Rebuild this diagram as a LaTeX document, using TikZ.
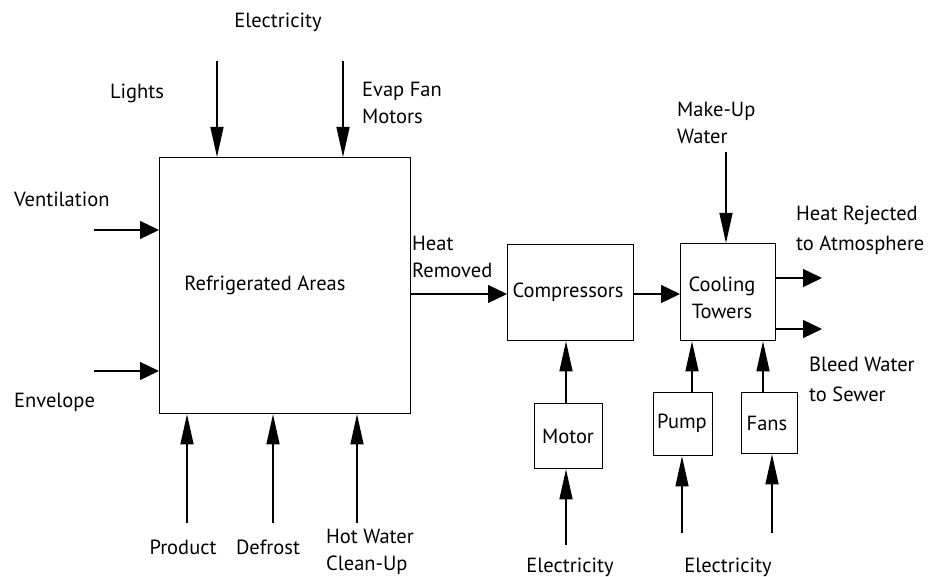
\documentclass[tikz,border=0pt]{standalone}
\usepackage{fontspec}
\setmainfont{PT Sans}
\usetikzlibrary{arrows.meta}
\begin{document}
\begin{tikzpicture}[x=1pt,y=-1pt,
  box/.style={draw,line width=1.3pt,inner sep=0pt,anchor=north west},
  lbl/.style={inner sep=0pt,yshift=-2pt,font=\fontsize{20.5}{27}\selectfont,align=left},
  wlbl/.style={lbl,font=\fontsize{20.5}{30}\selectfont},
  varr/.style={line width=1.3pt,-{Triangle[length=30pt,width=13pt]}},
  harr/.style={line width=1.3pt,-{Triangle[length=19pt,width=18pt]}}]
\useasboundingbox (0,0) rectangle (938,577);
% boxes
\node[box,minimum width=251pt,minimum height=256pt] (ra) at (159,157) {};
\node[lbl] at (265,283) {Refrigerated Areas};
\node[box,minimum width=126pt,minimum height=96pt] (comp) at (507,244) {};
\node[lbl] at (568,290) {Compressors};
\node[box,minimum width=95pt,minimum height=97pt] (ct) at (680,243) {};
\node[lbl,align=center] at (722,296) {Cooling\\Towers};
\node[box,minimum width=68pt,minimum height=65pt] (motor) at (534,403) {};
\node[lbl] at (568,434) {Motor};
\node[box,minimum width=59pt,minimum height=63pt] (pump) at (653,392) {};
\node[lbl] at (682,421) {Pump};
\node[box,minimum width=56pt,minimum height=61pt] (fans) at (741,392) {};
\node[lbl] at (767,421) {Fans};
% labels
\node[lbl] (lel) at (278,20) {Electricity};
\node[lbl] (llights) at (137,91) {Lights};
\node[lbl,anchor=west] (levap) at (362,101) {Evap Fan\\Motors};
\node[lbl,anchor=west] (lvent) at (14,197) {Ventilation};
\node[lbl,anchor=west] (lenv) at (14,400) {Envelope};
\node[lbl] (lprod) at (183,545) {Product};
\node[lbl] (ldef) at (268,545) {Defrost};
\node[lbl,anchor=west] (lhot) at (326,550) {Hot Water\\Clean-Up};
\node[lbl,anchor=west] (lheat) at (412,255) {Heat\\Removed};
\node[lbl,anchor=west] (lmake) at (677,121) {Make-Up\\Water};
\node[wlbl,anchor=west] (lrej) at (796,228) {Heat Rejected\\to Atmosphere};
\node[wlbl,anchor=west] (lbleed) at (809,377) {Bleed Water\\to Sewer};
\node[lbl] (lel2) at (570,565) {Electricity};
\node[lbl] (lel3) at (728,565) {Electricity};
% free ends
\coordinate (t1) at (217,61);
\coordinate (t2) at (343,61);
\coordinate (v1) at (94,230);
\coordinate (v2) at (94,371);
\coordinate (b1) at (187,523);
\coordinate (b2) at (273,523);
\coordinate (b3) at (357,523);
\coordinate (mk) at (726,152);
\coordinate (o1) at (822,278);
\coordinate (o2) at (822,329);
\coordinate (e1) at (566,545);
\coordinate (e2) at (682,533);
\coordinate (e3) at (772,533);
% connectors
\draw[varr] (t1) -- (t1 |- ra.north);
\draw[varr] (t2) -- (t2 |- ra.north);
\draw[harr] (v1) -- (v1 -| ra.west);
\draw[harr] (v2) -- (v2 -| ra.west);
\draw[varr] (b1) -- (b1 |- ra.south);
\draw[varr] (b2) -- (b2 |- ra.south);
\draw[varr] (b3) -- (b3 |- ra.south);
\draw[harr] (ra.east |- 0,294) -- (comp.west |- 0,294);
\draw[harr] (comp.east |- 0,294) -- (ct.west |- 0,294);
\draw[varr] (mk) -- (mk |- ct.north);
\draw[harr] (ct.east |- o1) -- (o1);
\draw[harr] (ct.east |- o2) -- (o2);
\draw[varr] (motor.north -| e1) -- (e1 |- comp.south);
\draw[varr] (e1) -- (motor.south -| e1);
\draw[varr] (pump.north -| 692,0) -- (692,0 |- ct.south);
\draw[varr] (e2) -- (e2 |- pump.south);
\draw[varr] (fans.north -| 763,0) -- (763,0 |- ct.south);
\draw[varr] (e3) -- (e3 |- fans.south);
\end{tikzpicture}
\end{document}
